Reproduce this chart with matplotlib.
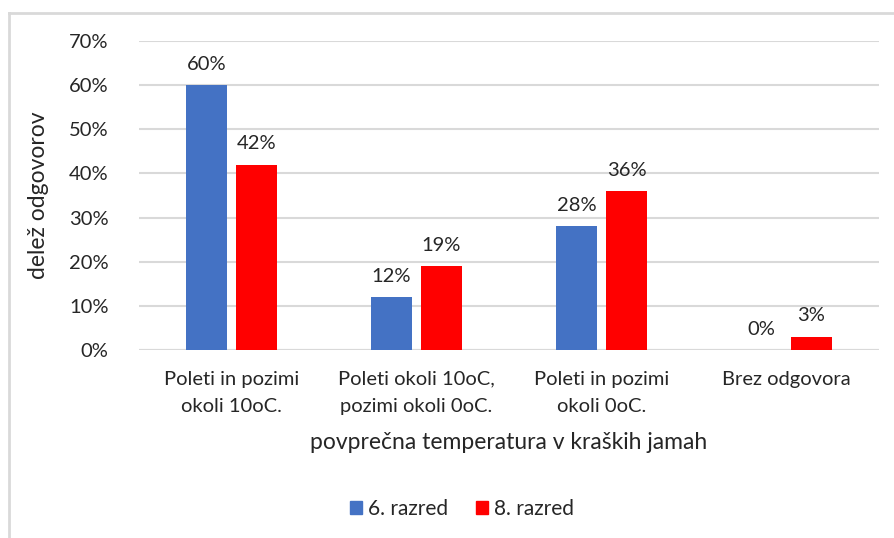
import matplotlib.pyplot as plt
import numpy as np
from matplotlib.patches import Rectangle
from matplotlib.lines import Line2D

plt.rcParams['font.family'] = ['Lato', 'DejaVu Sans']

categories = ["Poleti in pozimi\nokoli 10oC.", "Poleti okoli 10oC,\npozimi okoli 0oC.",
              "Poleti in pozimi\nokoli 0oC.", "Brez odgovora"]
razred6 = [60, 12, 28, 0]
razred8 = [42, 19, 36, 3]

blue = '#4472c4'
red = '#ff0000'
grid = '#d9d9d9'
txt = '#262626'

fig = plt.figure(figsize=(8.94, 5.38), dpi=100)
ax = fig.add_axes([139 / 894, 1 - 350 / 538, 740 / 894, 309 / 538])

x = np.arange(len(categories))
w = 0.22
off = 0.135
b1 = ax.bar(x - off, razred6, w, color=blue, label='6. razred', zorder=3)
b2 = ax.bar(x + off, razred8, w, color=red, label='8. razred', zorder=3)

for bars in (b1, b2):
    for b in bars:
        h = b.get_height()
        ax.text(b.get_x() + b.get_width() / 2, h + 2.8, f"{h:.0f}%", ha='center', va='bottom',
                fontsize=14.5, color=txt)

ax.set_xlim(-0.5, 3.5)
ax.set_ylim(0, 70)
ax.set_yticks(range(0, 71, 10))
ax.set_yticklabels([f"{v}%" for v in range(0, 71, 10)])
ax.set_xticks(x)
ax.set_xticklabels(categories, linespacing=1.75)
ax.tick_params(length=0, labelsize=14.5, colors=txt)
ax.tick_params(axis='y', pad=22)
ax.tick_params(axis='x', pad=15)
ax.yaxis.grid(True, color=grid, linewidth=1.5, zorder=0)
for s in ax.spines.values():
    s.set_visible(False)
ax.axhline(0, color=grid, linewidth=1.5, zorder=2)

ax.set_ylabel("delež odgovorov", fontsize=16.5, color=txt, labelpad=14)
ax.set_xlabel("povprečna temperatura v kraških jamah", fontsize=16.5, color=txt, labelpad=12)

handles = [Rectangle((0, 0), 1, 1, color=blue), Rectangle((0, 0), 1, 1, color=red)]
fig.legend(handles, ['6. razred', '8. razred'], loc='center', bbox_to_anchor=(462 / 894, 1 - 509 / 538),
           ncol=2, frameon=False, fontsize=15, handlelength=0.6, handleheight=0.6,
           handletextpad=0.3, columnspacing=1.3, labelcolor=txt)

# chart frame
fig.add_artist(Line2D([9 / 894, 9 / 894], [0, 1 - 13 / 538], color=grid, linewidth=2))
fig.add_artist(Line2D([9 / 894, 1], [1 - 13 / 538, 1 - 13 / 538], color=grid, linewidth=2))

fig.savefig("out.png", dpi=100)
